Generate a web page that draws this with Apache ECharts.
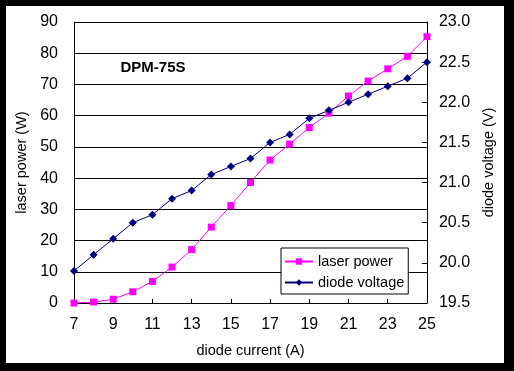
<!DOCTYPE html>
<html>
<head>
<meta charset="utf-8">
<script src="https://cdn.jsdelivr.net/npm/echarts@6/dist/echarts.min.js"></script>
<style>
html,body{margin:0;padding:0;background:#000;width:514px;height:371px;overflow:hidden;}
#c{position:absolute;left:6px;top:6px;width:498px;height:357px;background:#fff;}
</style>
</head>
<body>
<div id="c"></div>
<script>
const currents = ['7','8','9','10','11','12','13','14','15','16','17','18','19','20','21','22','23','24','25'];
const laserPower = [0, 0.3, 1.2, 3.6, 6.9, 11.5, 17.1, 24.3, 31.2, 38.6, 45.8, 50.9, 56.2, 60.8, 66.3, 71.1, 75.0, 79.0, 85.3];
const diodeVoltage = [19.9, 20.1, 20.3, 20.5, 20.6, 20.8, 20.9, 21.1, 21.2, 21.3, 21.5, 21.6, 21.8, 21.9, 22.0, 22.1, 22.2, 22.3, 22.5];
const chartTitle = 'DPM-75S';

const FONT = '"Liberation Sans", Arial, sans-serif';
const chart = echarts.init(document.getElementById('c'), null, {renderer: 'canvas'});
chart.setOption({
  backgroundColor: '#fff',
  animation: false,
  textStyle: {fontFamily: FONT, color: '#000'},
  title: {
    text: chartTitle, left: 114.5, top: 54, padding: 0,
    textStyle: {fontFamily: FONT, fontSize: 15, fontWeight: 'bold', color: '#000'}
  },
  grid: {left: 66, top: 16, width: 367, height: 285, containLabel: false},
  legend: {
    orient: 'vertical', left: 275, top: 242,
    padding: [6, 4, 4, 3], itemGap: 6, itemWidth: 28, itemHeight: 8,
    borderColor: '#000', borderWidth: 1, backgroundColor: '#fff',
    textStyle: {fontFamily: FONT, fontSize: 14.5, color: '#000', lineHeight: 15},
    data: ['laser power', 'diode voltage']
  },
  xAxis: {
    type: 'category', data: currents, boundaryGap: false,
    name: 'diode current (A)', nameLocation: 'middle', nameGap: 40,
    nameTextStyle: {fontFamily: FONT, fontSize: 14.5, color: '#000'},
    axisLine: {lineStyle: {color: '#000', width: 1}},
    axisTick: {inside: true, length: 4, interval: 1, lineStyle: {color: '#000'}},
    axisLabel: {interval: 1, margin: 14, fontFamily: FONT, fontSize: 16, color: '#000'},
    splitLine: {show: false}
  },
  yAxis: [{
    type: 'value', min: 0, max: 90, interval: 10, position: 'left',
    name: 'laser power (W)', nameLocation: 'middle', nameGap: 45, nameRotate: 90,
    nameTextStyle: {fontFamily: FONT, fontSize: 14.5, color: '#000'},
    axisLine: {show: true, lineStyle: {color: '#000', width: 1}},
    axisTick: {show: false},
    axisLabel: {margin: 16, fontFamily: FONT, fontSize: 16, color: '#000'},
    splitLine: {show: true, lineStyle: {color: '#000', width: 1}}
  }, {
    type: 'value', min: 19.5, max: 23, interval: 0.5, position: 'right',
    name: 'diode voltage (V)', nameLocation: 'middle', nameGap: 48, nameRotate: 90,
    nameTextStyle: {fontFamily: FONT, fontSize: 14.5, color: '#000'},
    axisLine: {show: true, lineStyle: {color: '#000', width: 1}},
    axisTick: {show: true, inside: true, length: 5, lineStyle: {color: '#000'}},
    axisLabel: {margin: 12, fontFamily: FONT, fontSize: 16, color: '#000', formatter: v => v.toFixed(1)},
    splitLine: {show: false}
  }],
  series: [{
    name: 'laser power', type: 'line', yAxisIndex: 0, data: laserPower,
    symbol: 'rect', symbolSize: 7,
    lineStyle: {color: '#FF00FF', width: 1},
    itemStyle: {color: '#FF00FF'}
  }, {
    name: 'diode voltage', type: 'line', yAxisIndex: 1, data: diodeVoltage,
    symbol: 'diamond', symbolSize: 8,
    lineStyle: {color: '#000080', width: 1},
    itemStyle: {color: '#000080'}
  }]
});
</script>
</body>
</html>
